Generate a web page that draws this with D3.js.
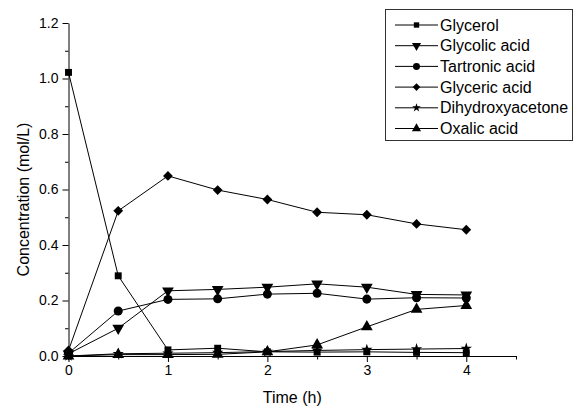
<!DOCTYPE html>
<html>
<head>
<meta charset="utf-8">
<script src="https://cdn.jsdelivr.net/npm/d3@7"></script>
<style>
  body { margin: 0; background: #fff; }
  text { font-family: "Liberation Sans", Arial, sans-serif; fill: #000; }
</style>
</head>
<body>
<div id="viz"></div>
<script>
// time points (h)
const times = [0, 0.5, 1, 1.5, 2, 2.5, 3, 3.5, 4];

// concentrations (mol/L)
const glycerol = [1.022, 0.289, 0.022, 0.028, 0.015, 0.014, 0.015, 0.013, 0.012];
const glycolicAcid = [0.008, 0.1, 0.235, 0.24, 0.248, 0.26, 0.248, 0.222, 0.22];
const tartronicAcid = [0.01, 0.162, 0.204, 0.206, 0.223, 0.226, 0.205, 0.21, 0.209];
const glycericAcid = [0.02, 0.523, 0.649, 0.598, 0.564, 0.518, 0.509, 0.476, 0.455];
const dihydroxyacetone = [0, 0.008, 0.01, 0.012, 0.016, 0.02, 0.023, 0.025, 0.027];
const oxalicAcid = [0, 0.005, 0.005, 0.006, 0.015, 0.04, 0.105, 0.168, 0.182];

const seriesNames = ["Glycerol", "Glycolic acid", "Tartronic acid", "Glyceric acid", "Dihydroxyacetone", "Oxalic acid"];
const seriesValues = [glycerol, glycolicAcid, tartronicAcid, glycericAcid, dihydroxyacetone, oxalicAcid];

const xTicks = [0, 1, 2, 3, 4];
const yTicks = [0, 0.2, 0.4, 0.6, 0.8, 1.0, 1.2];

// marker shapes for each series
const symbolFor = [
  { type: d3.symbolSquare, size: 48, rotate: 0 },
  { type: d3.symbolTriangle, size: 60, rotate: 180 },
  { type: d3.symbolCircle, size: 64, rotate: 0 },
  { type: d3.symbolSquare, size: 48, rotate: 45 },
  { type: d3.symbolStar, size: 40, rotate: 0 },
  { type: d3.symbolTriangle, size: 60, rotate: 0 }
];

function createChart() {
  const width = 577;
  const height = 408;
  const left = 68.5;
  const right = 516;
  const top = 23;
  const bottom = 356;

  const svg = d3
    .select("#viz")
    .append("svg")
    .attr("width", width)
    .attr("height", height);

  const x = d3.scaleLinear().domain([0, 4.5]).range([left, right]);
  const y = d3.scaleLinear().domain([0, 1.2]).range([bottom, top]);

  // x axis: minor ticks first, then labelled majors
  svg
    .append("g")
    .attr("transform", `translate(0,${bottom})`)
    .call(d3.axisBottom(x).tickValues(d3.range(0.5, 4.6, 1)).tickSize(3.5).tickFormat(""))
    .call((g) => g.select(".domain").remove());

  const xAxis = svg
    .append("g")
    .attr("transform", `translate(0,${bottom})`)
    .call(d3.axisBottom(x).tickValues(xTicks).tickSize(6).tickSizeOuter(0).tickPadding(3).tickFormat(d3.format("d")));
  xAxis.selectAll("text").style("font-size", "14px");

  // y axis
  svg
    .append("g")
    .attr("transform", `translate(${left},0)`)
    .call(d3.axisLeft(y).tickValues(d3.range(0.1, 1.2, 0.2)).tickSize(3.5).tickFormat(""))
    .call((g) => g.select(".domain").remove());

  const yAxis = svg
    .append("g")
    .attr("transform", `translate(${left},0)`)
    .call(d3.axisLeft(y).tickValues(yTicks).tickSize(6).tickSizeOuter(0).tickPadding(4).tickFormat(d3.format(".1f")));
  yAxis.selectAll("text").style("font-size", "14px");

  svg.selectAll(".domain, .tick line").attr("stroke", "#000");

  // axis titles
  svg
    .append("text")
    .attr("x", (left + right) / 2)
    .attr("y", 403)
    .attr("text-anchor", "middle")
    .style("font-size", "16px")
    .text("Time (h)");

  svg
    .append("text")
    .attr("transform", `translate(29,${(top + bottom) / 2 + 10}) rotate(-90)`)
    .attr("text-anchor", "middle")
    .style("font-size", "16px")
    .text("Concentration (mol/L)");

  const line = d3
    .line()
    .x((d, i) => x(times[i]))
    .y((d) => y(d));

  // lines and markers
  seriesValues.forEach((values, s) => {
    const sym = symbolFor[s];
    svg
      .append("path")
      .attr("d", line(values))
      .attr("fill", "none")
      .attr("stroke", "#000")
      .attr("stroke-width", 1);

    svg
      .selectAll(`path.marker-${s}`)
      .data(values)
      .enter()
      .append("path")
      .classed(`marker-${s}`, true)
      .attr("d", d3.symbol().type(sym.type).size(sym.size))
      .attr("transform", (d, i) => `translate(${x(times[i])},${y(d)}) rotate(${sym.rotate})`)
      .attr("fill", "#000");
  });

  // legend
  const legend = svg.append("g");
  legend
    .append("rect")
    .attr("x", 385.5)
    .attr("y", 9.5)
    .attr("width", 187)
    .attr("height", 131)
    .attr("fill", "#fff")
    .attr("stroke", "#333");

  const rows = legend
    .selectAll("g.row")
    .data(seriesNames)
    .enter()
    .append("g")
    .classed("row", true)
    .attr("transform", (d, i) => `translate(0,${25 + 20.7 * i})`);

  rows
    .append("line")
    .attr("x1", 395)
    .attr("x2", 438)
    .attr("stroke", "#000");

  rows
    .append("path")
    .attr("d", (d, i) => d3.symbol().type(symbolFor[i].type).size(symbolFor[i].size * 0.6)())
    .attr("transform", (d, i) => `translate(416.5,0) rotate(${symbolFor[i].rotate})`)
    .attr("fill", "#000");

  rows
    .append("text")
    .attr("x", 440)
    .attr("dy", "0.35em")
    .style("font-size", "16px")
    .text((d) => d);
}

createChart();
</script>
</body>
</html>
